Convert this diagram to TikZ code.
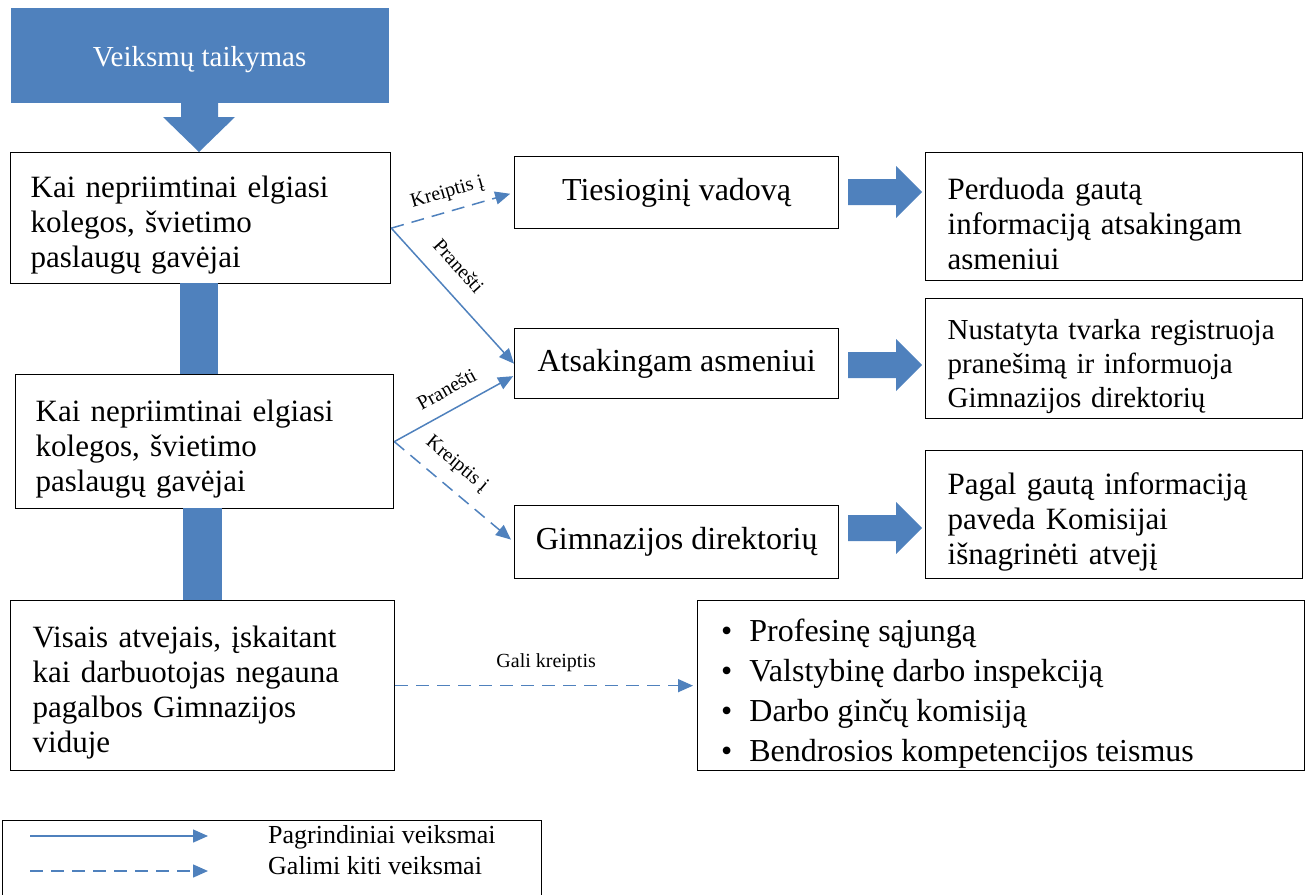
\documentclass[tikz,border=0pt]{standalone}
\usepackage{fontspec}
\setmainfont{Liberation Serif}
\usetikzlibrary{arrows.meta,calc}
\definecolor{blu}{HTML}{4F81BD}
\newcommand\tpa{\rule{0pt}{36pt}}
\begin{document}
\begin{tikzpicture}[x=1pt,y=-1pt,
  box/.style={draw=black, line width=1.3pt, inner sep=0pt, anchor=north west},
  big/.style={font=\fontsize{31}{35}\selectfont},
  mid/.style={font=\fontsize{32}{35}\selectfont},
  small/.style={font=\fontsize{29}{34}\selectfont},
  lbl/.style={font=\fontsize{20}{22}\selectfont, inner sep=1pt},
  main/.style={draw=blu, line width=1.5pt, -{Triangle[length=15pt,width=13pt]}},
  alt/.style={main, dash pattern=on 13pt off 8pt},
  blk/.style={fill=blu, draw=none}]
\useasboundingbox (0,0) rectangle (1311,894);

% header
\node[box, draw=none, fill=blu, minimum width=378pt, minimum height=95pt, text=white,
      font=\fontsize{29}{33}\selectfont] (top) at (10,7) {\raisebox{-4pt}[\height][\depth]{Veiksmų taikymas}};
\fill[blk] (181,102) -- (218,102) -- (218,117) -- (235,117) -- (199,152) -- (163,117) -- (181,117) -- cycle;

% left boxes
\node[box, big, minimum width=380pt, minimum height=131pt, text width=340pt, inner xsep=20pt, align=left] (b1) at (10,152)
  {\tpa Kai nepriimtinai elgiasi\\kolegos, švietimo\\paslaugų gavėjai};
\node[box, big, minimum width=378pt, minimum height=134pt, text width=338pt, inner xsep=20pt, align=left] (b2) at (15,374)
  {\tpa Kai nepriimtinai elgiasi\\kolegos, švietimo\\paslaugų gavėjai};
\node[box, big, minimum width=380pt, minimum height=170pt, text width=340pt, inner xsep=22pt, align=left] (b3) at (10,600)
  {\tpa Visais atvejais, įskaitant\\kai darbuotojas negauna\\pagalbos Gimnazijos\\viduje};
\fill[blk] (180,283) rectangle (218,374);
\fill[blk] (183,508) rectangle (222,600);

% middle boxes
\node[box, mid, minimum width=324pt, minimum height=72pt] (tv) at (514,156) {Tiesioginį vadovą};
\node[box, mid, minimum width=324pt, minimum height=70pt] (aa) at (514,328) {Atsakingam asmeniui};
\node[box, mid, minimum width=324pt, minimum height=73pt] (gd) at (514,505) {Gimnazijos direktorių};

% right boxes
\node[box, big, minimum width=377pt, minimum height=128pt, text width=333pt, inner xsep=22pt, align=left] (pg) at (925,152)
  {\tpa Perduoda gautą\\informaciją atsakingam\\asmeniui};
\node[box, small, minimum width=377pt, minimum height=120pt, text width=333pt, inner xsep=22pt, align=left] (nt) at (925,298)
  {\rule{0pt}{36pt}Nustatyta tvarka registruoja\\pranešimą ir informuoja\\Gimnazijos direktorių};
\node[box, big, minimum width=377pt, minimum height=128pt, text width=333pt, inner xsep=22pt, align=left] (pi) at (925,450)
  {\tpa Pagal gautą informaciją\\paveda Komisijai\\išnagrinėti atvejį};

% block arrows
\foreach \yy in {192,365,528}{
  \fill[blk] (848,\yy) ++(0,-13) -- ++(48,0) -- ++(0,-13) -- ++(26,26) -- ++(-26,26) -- ++(0,-13) -- ++(-48,0) -- cycle;
}

% bullet box
\node[box, minimum width=607pt, minimum height=170pt] (bl) at (697,600) {};
\begin{scope}
\clip (bl.north west) rectangle (bl.south east);
\node[anchor=north west, inner sep=0pt, font=\fontsize{32}{40}\selectfont, align=left] (bltxt) at (721,619)
  {•\hspace{17pt}Profesinę sąjungą\\
   •\hspace{17pt}Valstybinę darbo inspekciją\\
   •\hspace{17pt}Darbo ginčų komisiją\\
   •\hspace{17pt}Bendrosios kompetencijos teismus};
\end{scope}

% connectors
\draw[alt, shorten >=4pt] ([yshift=-10pt]b1.east) -- (tv.west)
  node[lbl, midway, sloped, above=8pt] {Kreiptis į};
\draw[main] ([yshift=-10pt]b1.east) -- (aa.west)
  node[lbl, pos=0.40, sloped, above=16pt] {Pranešti};
\draw[main, shorten >=1pt] (b2.east) -- ([yshift=-12pt]aa.west)
  node[lbl, pos=0.52, sloped, above=12pt] {Pranešti};
\draw[alt, shorten >=4pt] (b2.east) -- (gd.west)
  node[lbl, pos=0.4, sloped, above=12pt] {Kreiptis į};
\draw[alt, shorten >=4pt] (b3.east) -- (bl.west)
  node[lbl, midway, above=12pt] {Gali kreiptis};

% legend
\node[box, minimum width=539pt, minimum height=90pt] (leg) at (2,820) {};
\coordinate (l1a) at (30,836);  \coordinate (l1b) at (208,836);
\coordinate (l2a) at (30,871);  \coordinate (l2b) at (208,871);
\draw[main] (l1a) -- (l1b);
\draw[alt] (l2a) -- (l2b);
\node[anchor=west, inner sep=0pt, font=\fontsize{26}{28}\selectfont] (lt1) at (268,837) {Pagrindiniai veiksmai};
\node[anchor=west, inner sep=0pt, font=\fontsize{26}{28}\selectfont] (lt2) at (268,866) {Galimi kiti veiksmai};
\end{tikzpicture}
\end{document}
